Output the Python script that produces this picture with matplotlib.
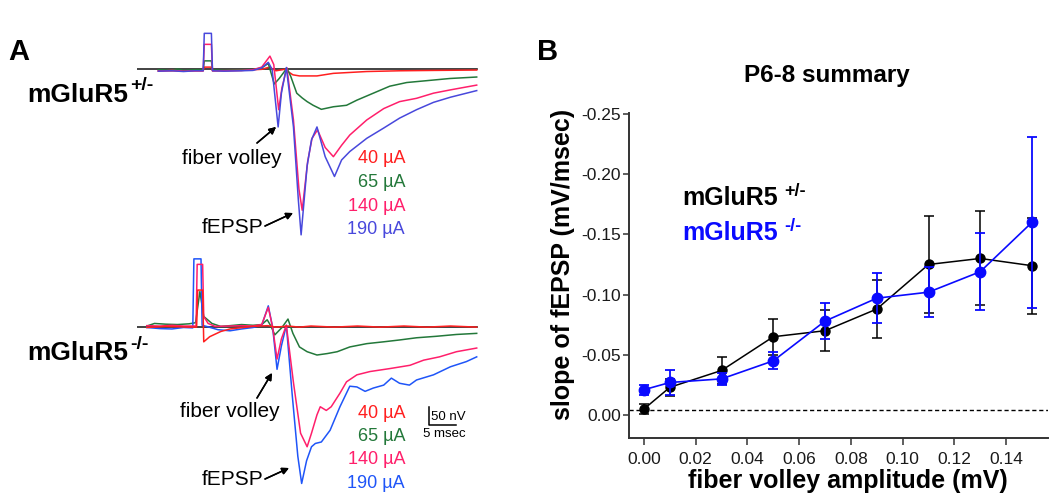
import matplotlib.pyplot as plt

plt.rcParams['font.family'] = ['Liberation Sans', 'DejaVu Sans']
plt.rcParams['axes.unicode_minus'] = False

W, H = 1050, 499

#%% panel A traces: time (msec) and field potential (nV)
# mGluR5 +/- (top)
HET_T_RED = [3.9, 8.5, 12.1, 12.3, 13.6, 13.8, 19.1, 22.8, 24.2, 25.4, 27.0, 28.5, 29.7, 32.9, 35.9, 42.0, 48.0, 54.2, 62.1]
HET_V_RED = [-4, -4, -4, 6, 6, -4, -3, 0, 6, -4, 0, -15, -18, -18, -11, -6, -4, -3, -2]
HET_T_GREEN = [3.9, 6.4, 7.4, 8.5, 10.6, 12.1, 12.3, 13.6, 13.8, 15.9, 19.1, 21.2, 22.8, 24.0, 25.1, 26.0,
               27.4, 28.1, 29.2, 30.2, 31.1, 32.2, 33.7, 35.9, 38.3, 40.2, 43.2, 46.2, 49.3, 52.9, 57.2, 62.1]
HET_V_GREEN = [-1, -3, 1, -3, -1, -1, 23, 23, -1, -3, -1, -1, 4, 16, -40, -25,
               3, -19, -65, -78, -88, -98, -109, -102, -98, -84, -65, -46, -36, -31, -25, -21]
HET_T_PINK = [3.9, 6.4, 8.5, 10.6, 12.1, 12.3, 13.6, 13.8, 15.9, 19.1, 21.2, 22.8, 24.3, 25.0, 25.9, 26.5, 27.4,
              28.6, 29.6, 30.2, 31.2, 32.0, 33.0, 34.4, 35.9, 37.4, 38.9, 42.0, 45.1, 48.0, 51.1, 54.2, 57.3, 62.1]
HET_V_PINK = [-5, -3, -5, -4, -4, 68, 68, -4, -4, -3, -1, 6, 36, 13, -110, -50, 4,
              -138, -326, -384, -251, -188, -165, -213, -238, -207, -179, -138, -107, -88, -79, -65, -56, -43]
HET_T_BLUE = [3.9, 6.4, 8.5, 10.6, 12.1, 12.3, 13.6, 13.8, 15.9, 19.1, 21.2, 22.8, 24.0, 24.7, 25.8, 26.4, 27.3,
              28.6, 29.5, 30.0, 31.1, 31.9, 32.9, 34.4, 36.1, 37.4, 38.9, 42.0, 45.1, 48.0, 51.1, 54.2, 57.3, 62.1]
HET_V_BLUE = [-5, -4, -6, -4, -4, 98, 98, -4, -5, -4, -3, 4, 19, 0, -157, -65, 5,
              -157, -357, -451, -263, -192, -157, -238, -292, -247, -224, -188, -160, -133, -110, -90, -76, -58]

# mGluR5 -/- (bottom)
KO_T_RED = [1.8, 5.3, 9.5, 10.9, 11.1, 12.0, 12.2, 13.3, 15.3, 17.0, 21.2, 23.9, 25.4, 27.6, 29.7, 31.8,
            36.1, 40.3, 44.5, 48.8, 53.0, 57.3, 62.1]
KO_V_RED = [0, 3, 1, 1, 102, 102, -39, -25, -11, -4, 3, 5, 1, 4, 1, 4, 1, 4, 1, 4, 1, 4, 1]
KO_T_GREEN = [1.8, 3.2, 5.3, 7.4, 9.5, 10.7, 11.5, 12.2, 13.7, 15.3, 17.0, 19.1, 21.2, 22.8, 23.8, 24.4, 25.2,
              26.5, 27.6, 28.5, 29.7, 31.1, 32.9, 34.8, 36.6, 38.9, 42.0, 45.1, 48.0, 51.1, 54.7, 58.4, 62.1]
KO_V_GREEN = [4, 11, 9, 8, 10, 13, 98, 30, 11, 3, 5, 8, 6, 8, 21, 6, -20,
              0, 23, -16, -53, -66, -75, -71, -66, -53, -44, -39, -34, -28, -24, -19, -16]
KO_T_PINK = [1.8, 4.2, 6.4, 8.5, 10.8, 11.0, 12.0, 12.2, 13.0, 14.3, 17.0, 19.1, 21.2, 22.8, 24.0, 24.8, 25.6,
             26.4, 27.3, 28.6, 29.9, 31.1, 31.9, 32.9, 33.5, 34.6, 35.5, 37.1, 38.3, 40.2, 42.6, 46.2, 49.9,
             52.4, 55.3, 58.4, 62.1]
KO_V_PINK = [5, 4, 6, 4, 4, 172, 172, 30, 11, 3, 4, 5, 4, 8, 55, 0, -86,
             -31, 6, -150, -288, -325, -288, -238, -216, -226, -216, -179, -148, -129, -120, -112, -103,
             -89, -80, -66, -56]
KO_T_BLUE = [1.8, 4.2, 6.4, 8.5, 10.2, 10.4, 11.7, 11.9, 12.7, 14.8, 17.0, 19.1, 21.2, 22.8, 24.0, 24.8, 25.6,
             26.4, 27.3, 28.4, 29.4, 30.1, 31.0, 31.9, 32.6, 33.7, 35.3, 37.1, 38.9, 40.2, 41.7, 43.2, 45.1,
             46.5, 48.0, 49.8, 51.1, 54.2, 57.3, 60.2, 62.1]
KO_V_BLUE = [0, -3, -4, 0, -1, 187, 187, 6, 3, -6, -9, -4, 0, 6, 59, 0, -114,
             -50, 6, -188, -351, -425, -363, -325, -316, -312, -280, -216, -160, -162, -174, -165, -157,
             -138, -152, -157, -143, -129, -107, -93, -80]

BASELINE_T = [0, 62.1]
STIM_LABELS = ['40 \u00b5A', '65 \u00b5A', '140 \u00b5A', '190 \u00b5A']
SCALE_MS, SCALE_NV = 5, 50

#%% panel B summary data
FV_AMP = [0.00, 0.01, 0.03, 0.05, 0.07, 0.09, 0.11, 0.13, 0.15]
HET_SLOPE = [-0.005, -0.023, -0.037, -0.065, -0.070, -0.088, -0.125, -0.130, -0.124]
HET_SEM = [0.004, 0.007, 0.011, 0.015, 0.017, 0.024, 0.040, 0.039, 0.040]
KO_SLOPE = [-0.021, -0.027, -0.030, -0.045, -0.078, -0.097, -0.102, -0.119, -0.160]
KO_SEM = [0.004, 0.010, 0.005, 0.007, 0.015, 0.021, 0.021, 0.032, 0.071]
DASH_LEVEL = -0.0045

RED, GREEN, PINK = '#ff1f1f', '#23783a', '#ff1f6b'
BLUE_TOP, BLUE_BOT = '#4848dc', '#1f55f8'


def frac(x, y):
    # pixel position (from top-left) to figure fraction
    return (x / W, 1 - y / H)


def box(left, top, width, height):
    return [left / W, 1 - (top + height) / H, width / W, height / H]


fig = plt.figure(figsize=(W / 100, H / 100), dpi=100)

#%% panel A
ax_het = fig.add_axes(box(137, 21.6, 350.1, 223.9))
ax_het.set_xlim(0, 64)
ax_het.set_ylim(-480, 130)
ax_ko = fig.add_axes(box(137, 254.1, 350.1, 242.2))
ax_ko.set_xlim(0, 64)
ax_ko.set_ylim(-460, 200)

lw = 1.1
ax_het.plot(BASELINE_T, [0, 0], color='#222222', lw=1.2, zorder=1)
ax_het.plot(HET_T_RED, HET_V_RED, color=RED, lw=lw, zorder=2)
ax_het.plot(HET_T_GREEN, HET_V_GREEN, color=GREEN, lw=lw, zorder=2)
ax_het.plot(HET_T_PINK, HET_V_PINK, color=PINK, lw=lw, zorder=2)
ax_het.plot(HET_T_BLUE, HET_V_BLUE, color=BLUE_TOP, lw=lw, zorder=2)

ax_ko.plot(BASELINE_T, [0, 0], color='#222222', lw=1.2, zorder=1)
ax_ko.plot(KO_T_GREEN, KO_V_GREEN, color=GREEN, lw=lw, zorder=2)
ax_ko.plot(KO_T_BLUE, KO_V_BLUE, color=BLUE_BOT, lw=lw, zorder=2)
ax_ko.plot(KO_T_PINK, KO_V_PINK, color=PINK, lw=lw, zorder=2)
ax_ko.plot(KO_T_RED, KO_V_RED, color=RED, lw=lw, zorder=3)

# scale bar
sb_t, sb_v = 53.3, -266
ax_ko.plot([sb_t, sb_t, sb_t + SCALE_MS], [sb_v + SCALE_NV, sb_v, sb_v], color='k', lw=1.1)
ax_het.axis('off')
ax_ko.axis('off')

fig.text(*frac(431, 420), f'{SCALE_NV} nV', fontsize=9.5, va='baseline')
fig.text(*frac(423, 437), f'{SCALE_MS} msec', fontsize=9.5, va='baseline')

fig.text(*frac(8, 60), 'A', fontsize=21, fontweight='bold', va='baseline')

for base, sup, y_txt, y_sup in [('mGluR5', '+/-', 101.7, 90), ('mGluR5', '-/-', 360, 349)]:
    fig.text(*frac(27, y_txt), base, fontsize=19, fontweight='bold', va='baseline')
    fig.text(*frac(130, y_sup), sup, fontsize=14, fontweight='bold', va='baseline')

arrow = dict(arrowstyle='-|>', color='k', lw=1.1, mutation_scale=10, shrinkA=0, shrinkB=0)
# top group
fig.text(*frac(232, 164), 'fiber volley', fontsize=15, ha='center', va='baseline')
fig.text(*frac(263, 233), 'fEPSP', fontsize=15, ha='right', va='baseline')
fig.add_artist(plt.annotate('', xy=frac(276, 127), xytext=frac(257, 143), xycoords='figure fraction',
                            textcoords='figure fraction', arrowprops=arrow))
fig.add_artist(plt.annotate('', xy=frac(293, 213), xytext=frac(265, 226), xycoords='figure fraction',
                            textcoords='figure fraction', arrowprops=arrow))
# bottom group
fig.text(*frac(230, 416.7), 'fiber volley', fontsize=15, ha='center', va='baseline')
fig.text(*frac(263, 485), 'fEPSP', fontsize=15, ha='right', va='baseline')
fig.add_artist(plt.annotate('', xy=frac(272, 373), xytext=frac(257, 398), xycoords='figure fraction',
                            textcoords='figure fraction', arrowprops=arrow))
fig.add_artist(plt.annotate('', xy=frac(289, 468), xytext=frac(265, 479), xycoords='figure fraction',
                            textcoords='figure fraction', arrowprops=arrow))

for lab, col, y in zip(STIM_LABELS, [RED, GREEN, PINK, BLUE_TOP], [163.3, 186.7, 210.7, 234]):
    fig.text(*frac(405, y), lab, fontsize=13, color=col, ha='right', va='baseline')
for lab, col, y in zip(STIM_LABELS, [RED, GREEN, PINK, BLUE_BOT], [417.7, 441, 464.3, 487.7]):
    fig.text(*frac(405, y), lab, fontsize=13, color=col, ha='right', va='baseline')

#%% panel B
ax = fig.add_axes(box(629, 113, 419, 325))
ax.axhline(DASH_LEVEL, color='k', lw=1, dashes=(3, 2), zorder=1)
ax.errorbar(FV_AMP, HET_SLOPE, yerr=HET_SEM, color='black', marker='o', ms=6.5, lw=1.1,
            elinewidth=1.1, capsize=3.6, capthick=1.1, zorder=3)
ax.errorbar(FV_AMP, KO_SLOPE, yerr=KO_SEM, color='#0a0aff', marker='o', ms=7.5, lw=1.2,
            elinewidth=1.3, capsize=3.6, capthick=1.3, zorder=4)
ax.set_xlim(-0.0058, 0.1562)
ax.set_ylim(0.0191, -0.2508)
ax.set_xticks([0.00, 0.02, 0.04, 0.06, 0.08, 0.10, 0.12, 0.14])
ax.set_yticks([0.00, -0.05, -0.10, -0.15, -0.20, -0.25])
ax.set_xticklabels([f'{v:.2f}' for v in ax.get_xticks()])
ax.set_yticklabels([f'{v:.2f}' if v == 0 else f'{v:.2f}' for v in ax.get_yticks()])
ax.spines[['top', 'right']].set_visible(False)
for s in ['left', 'bottom']:
    ax.spines[s].set_linewidth(1.4)
    ax.spines[s].set_color('#333333')
ax.tick_params(axis='both', labelsize=12.5, colors='#333333', labelcolor='#1a1a1a', width=1.1)
ax.tick_params(axis='y', length=4, pad=2)
ax.tick_params(axis='x', length=5, pad=5)

fig.text(*frac(537, 60), 'B', fontsize=21, fontweight='bold', va='baseline')
fig.text(*frac(827, 82), 'P6-8 summary', fontsize=17.5, fontweight='bold', ha='center', va='baseline')
fig.text(*frac(563, 264), 'slope of fEPSP (mV/msec)', fontsize=18, fontweight='bold',
         rotation=90, ha='center', va='center')
fig.text(*frac(848, 488), 'fiber volley amplitude (mV)', fontsize=18, fontweight='bold',
         ha='center', va='baseline')
fig.text(*frac(682, 205), 'mGluR5', fontsize=18, fontweight='bold', va='baseline')
fig.text(*frac(784, 196), '+/-', fontsize=13, fontweight='bold', va='baseline')
fig.text(*frac(682, 240), 'mGluR5', fontsize=18, fontweight='bold', va='baseline', color='#0a0aff')
fig.text(*frac(784, 231), '-/-', fontsize=13, fontweight='bold', va='baseline', color='#0a0aff')

fig.savefig('out.png', dpi=100)
